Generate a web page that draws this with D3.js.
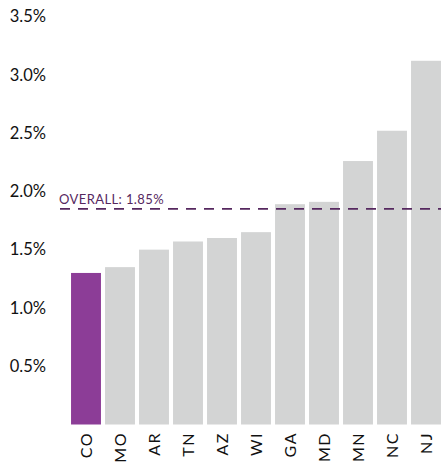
<!DOCTYPE html>
<html><head><meta charset="utf-8">
<script src="https://cdn.jsdelivr.net/npm/d3@7"></script>
<style>body{margin:0;background:#fff}</style>
</head><body>
<svg id="c" width="441" height="463"></svg>
<script>
const states = ["CO","MO","AR","TN","AZ","WI","GA","MD","MN","NC","NJ"];
const rates = [1.30,1.35,1.50,1.57,1.60,1.65,1.89,1.91,2.26,2.52,3.12];
const highlight = ["CO"];
const overall = 1.85;
const yTicks = [0.5,1.0,1.5,2.0,2.5,3.0,3.5];

const svg = d3.select("#c");
const font = "Lato, 'Open Sans', sans-serif";
const x = d3.scaleBand().domain(states).range([69, 443]).paddingInner(0.12).paddingOuter(0.06);
const y = d3.scaleLinear().domain([0, 3.5]).range([424.5, 16.5]);

svg.append("g").selectAll("rect").data(states).join("rect")
  .attr("x", d => x(d)).attr("width", x.bandwidth())
  .attr("y", (d,i) => y(rates[i])).attr("height", (d,i) => y(0) - y(rates[i]))
  .attr("fill", d => highlight.includes(d) ? "#8c3d97" : "#d3d4d4");

const yAxis = svg.append("g").attr("transform","translate(46,0)")
  .call(d3.axisLeft(y).tickValues(yTicks).tickSize(0).tickPadding(0).tickFormat(d => d.toFixed(1) + "%"));
yAxis.select(".domain").remove();
yAxis.selectAll("text").attr("font-family", font).attr("font-size", 16.5).attr("fill", "#111");

const xAxis = svg.append("g").attr("transform", "translate(0,432)")
  .call(d3.axisBottom(x).tickSize(0).tickPadding(0));
xAxis.select(".domain").remove();
xAxis.selectAll("text").attr("font-family", font).attr("font-size", 16).attr("fill", "#111")
  .attr("letter-spacing", "1.5px")
  .attr("transform", "rotate(-90)").attr("text-anchor", "end").attr("dy", "0.36em").attr("x", 0).attr("y", 0);

svg.append("line").attr("x1", 60).attr("x2", 441).attr("y1", y(overall)).attr("y2", y(overall))
  .attr("stroke", "#56285f").attr("stroke-width", 1.6).attr("stroke-dasharray", "10,8");
svg.append("text").attr("x", 59).attr("y", y(overall) - 5)
  .attr("font-family", font).attr("font-size", 13).attr("letter-spacing", "0.4px").attr("fill", "#56285f")
  .text("OVERALL: " + overall.toFixed(2) + "%");
</script>
</body></html>
